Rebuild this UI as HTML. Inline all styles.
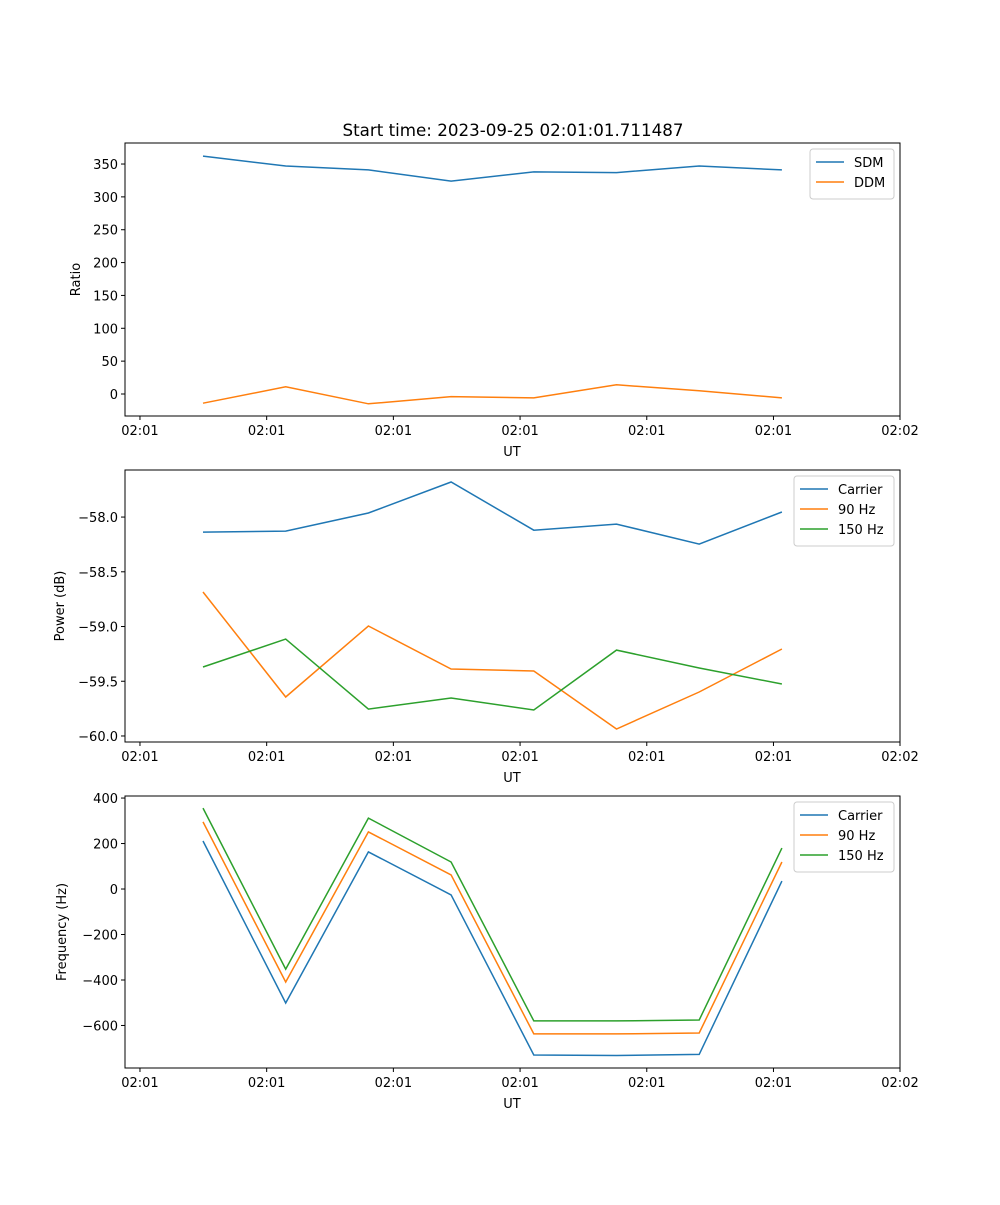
<!DOCTYPE html>
<html><head><meta charset="utf-8"><style>
body{margin:0;background:#fff;}
svg text{font-family:"DejaVu Sans","Liberation Sans",sans-serif;fill:#000;}
</style></head><body>
<svg id="fig" width="1000" height="1200" xmlns="http://www.w3.org/2000/svg">
<rect width="1000" height="1200" fill="#fff"/>
<text x="513" y="136" font-size="16.7" text-anchor="middle">Start time: 2023-09-25 02:01:01.711487</text>
</svg>
<script>
const sampleIdx = [0,1,2,3,4,5,6,7];
const xTickVals = [-0.762,0.770,2.302,3.834,5.366,6.898,8.428];
const xTickLabels = ["02:01","02:01","02:01","02:01","02:01","02:01","02:02"];
const sdm = [362,347,341,324,338,337,347,341];
const ddm = [-14,11,-15,-4,-6,14,5,-6];
const powCarrier = [-58.137,-58.128,-57.963,-57.68,-58.12,-58.064,-58.247,-57.954];
const pow90 = [-58.685,-59.644,-58.995,-59.388,-59.406,-59.936,-59.598,-59.205];
const pow150 = [-59.37,-59.115,-59.754,-59.653,-59.763,-59.215,-59.379,-59.525];
const freqCarrier = [211,-501,163,-26,-730,-732,-727,35];
const freq90 = [295,-409,251,62,-637,-637,-633,119];
const freq150 = [356,-352,312,119,-580,-580,-576,180];
const ratioTicks = [0,50,100,150,200,250,300,350];
const powerTicks = [-60.0,-59.5,-59.0,-58.5,-58.0];
const freqTicks = [-600,-400,-200,0,200,400];

const NS="http://www.w3.org/2000/svg";
const svg=document.getElementById('fig');
function mk(tag,attrs,parent){const e=document.createElementNS(NS,tag);for(const k in attrs)e.setAttribute(k,attrs[k]);(parent||svg).appendChild(e);return e;}
const L=125,R=900,xmin=-0.943,xmax=8.428;
const xs=v=>L+(v-xmin)/(xmax-xmin)*(R-L);
const colors={b:'#1f77b4',o:'#ff7f0e',g:'#2ca02c'};

function panel(name,top,bot,ymin,ymax,yticks,fmt,ylabel,series,legendW){
  const g=mk('g',{});
  
  
  const ys=v=>bot-(v-ymin)/(ymax-ymin)*(bot-top);
  series.forEach(s=>{
    const pts=sampleIdx.map((i,j)=>xs(i).toFixed(1)+','+ys(s.data[j]).toFixed(1)).join(' ');
    const p=mk('polyline',{points:pts,fill:'none',stroke:s.color,'stroke-width':1.5},g);
    
    
  });
  const fr=mk('rect',{x:L,y:top,width:R-L,height:bot-top,fill:'none',stroke:'#000','stroke-width':1},g);
  
  
  xTickVals.forEach((v,i)=>{
    const x=xs(v);
    mk('line',{x1:x,x2:x,y1:bot,y2:bot+4,stroke:'#000'},g);
    const t=mk('text',{x:x,y:bot+19,'font-size':13,'text-anchor':'middle'},g);
    t.textContent=xTickLabels[i];
    
    
  });
  const xl=mk('text',{x:512,y:bot+40,'font-size':13,'text-anchor':'middle'},g);
  xl.textContent='UT';
  
  
  yticks.forEach(v=>{
    const y=ys(v);
    mk('line',{x1:L-4,x2:L,y1:y,y2:y,stroke:'#000'},g);
    const t=mk('text',{x:L-7,y:y+5,'font-size':13,'text-anchor':'end'},g);
    t.textContent=fmt(v);
    
    
  });
  const yl=mk('text',{x:0,y:0,'font-size':13,'text-anchor':'middle',transform:`translate(${ylabel.x},${(top+bot)/2}) rotate(-90)`},g);
  yl.textContent=ylabel.t;
  
  
  const lx=R-6-legendW, ly=top+6, lh=10+series.length*20;
  const lg=mk('g',{},g);
  
  
  mk('rect',{x:lx,y:ly,width:legendW,height:lh,rx:3,fill:'#fff',stroke:'#ccc'},lg);
  series.forEach((s,j)=>{
    const yy=ly+13+j*20;
    mk('line',{x1:lx+6,x2:lx+34,y1:yy,y2:yy,stroke:s.color,'stroke-width':1.5},lg);
    const t=mk('text',{x:lx+44,y:yy+5,'font-size':13},lg);
    t.textContent=s.label;
    
    
  });
}
panel('ratio',143,416,-33.5,382,ratioTicks,v=>String(v),{x:80,t:'Ratio'},
  [{key:'sdm',label:'SDM',data:sdm,color:colors.b},{key:'ddm',label:'DDM',data:ddm,color:colors.o}],84);
panel('power',470,742,-60.055,-57.57,powerTicks,v=>'\u2212'+Math.abs(v).toFixed(1),{x:64,t:'Power (dB)'},
  [{key:'carrier',label:'Carrier',data:powCarrier,color:colors.b},{key:'90hz',label:'90 Hz',data:pow90,color:colors.o},{key:'150hz',label:'150 Hz',data:pow150,color:colors.g}],100);
panel('frequency',796,1068,-787,409,freqTicks,v=>v<0?'\u2212'+Math.abs(v):String(v),{x:66,t:'Frequency (Hz)'},
  [{key:'carrier',label:'Carrier',data:freqCarrier,color:colors.b},{key:'90hz',label:'90 Hz',data:freq90,color:colors.o},{key:'150hz',label:'150 Hz',data:freq150,color:colors.g}],100);
</script>
</body></html>
